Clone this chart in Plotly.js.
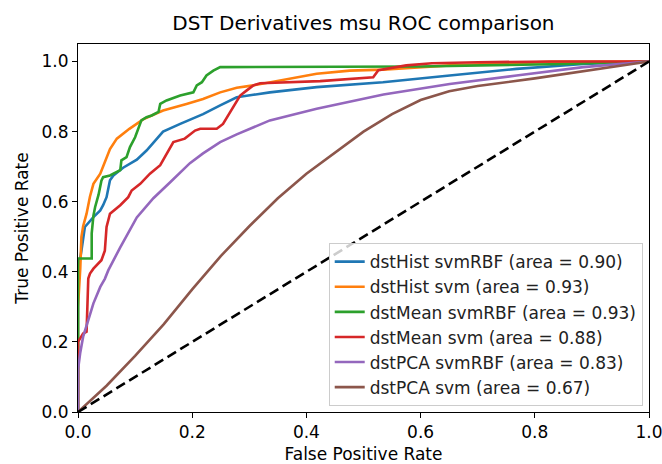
<!DOCTYPE html>
<html>
<head>
<meta charset="utf-8">
<script src="https://cdn.plot.ly/plotly-3.0.1.min.js"></script>
<style>html,body{margin:0;padding:0;background:#fff;}#chart{width:662px;height:464px;}</style>
</head>
<body>
<div id="chart"></div>
<script>
var labels = [
  "dstHist svmRBF (area = 0.90)",
  "dstHist svm (area = 0.93)",
  "dstMean svmRBF (area = 0.93)",
  "dstMean svm (area = 0.88)",
  "dstPCA svmRBF (area = 0.83)",
  "dstPCA svm (area = 0.67)"
];
var colors = ["#1f77b4", "#ff7f0e", "#2ca02c", "#d62728", "#9467bd", "#8c564b"];

var histRbfX = [0,0,0.006,0.009,0.012,0.027,0.039,0.044,0.05,0.056,0.062,0.079,0.103,0.12,0.149,0.179,0.219,0.249,0.278,0.307,0.336,0.418,0.534,0.651,0.768,0.885,1];
var histRbfY = [0,0.4,0.46,0.49,0.528,0.556,0.575,0.59,0.613,0.661,0.675,0.697,0.72,0.746,0.8,0.822,0.85,0.875,0.898,0.905,0.912,0.927,0.941,0.96,0.979,0.993,1];

var histSvmX = [0,0,0.004,0.006,0.009,0.015,0.021,0.027,0.039,0.044,0.05,0.056,0.068,0.09,0.114,0.149,0.19,0.219,0.249,0.278,0.307,0.418,0.476,0.534,0.651,0.768,0.826,1];
var histSvmY = [0,0.3,0.41,0.5,0.53,0.566,0.615,0.651,0.68,0.699,0.727,0.75,0.78,0.808,0.835,0.86,0.879,0.893,0.912,0.925,0.932,0.965,0.974,0.977,0.989,0.995,0.999,1];

var meanRbfX = [0,0,0,0.024,0.024,0.027,0.03,0.036,0.041,0.044,0.056,0.062,0.074,0.076,0.085,0.091,0.1,0.111,0.12,0.129,0.141,0.144,0.155,0.179,0.202,0.208,0.217,0.225,0.237,0.249,0.6,0.85,1];
var meanRbfY = [0,0.35,0.438,0.438,0.51,0.56,0.585,0.62,0.66,0.67,0.675,0.68,0.69,0.718,0.727,0.756,0.784,0.832,0.841,0.846,0.856,0.879,0.889,0.903,0.912,0.932,0.941,0.96,0.974,0.984,0.986,0.993,1];

var meanSvmX = [0,0,0.009,0.015,0.018,0.021,0.027,0.041,0.047,0.05,0.056,0.074,0.088,0.094,0.109,0.126,0.144,0.155,0.167,0.187,0.205,0.214,0.243,0.254,0.272,0.284,0.295,0.307,0.319,0.424,0.517,0.526,0.575,0.62,0.7,0.83,1];
var meanSvmY = [0,0.2,0.224,0.229,0.381,0.395,0.409,0.433,0.46,0.528,0.566,0.59,0.613,0.632,0.651,0.68,0.704,0.737,0.77,0.78,0.803,0.808,0.808,0.822,0.87,0.903,0.917,0.932,0.938,0.944,0.955,0.975,0.989,0.995,0.998,1,1];

var pcaRbfX = [0,0,0.004,0.009,0.018,0.027,0.039,0.047,0.053,0.074,0.103,0.132,0.161,0.196,0.219,0.249,0.278,0.307,0.336,0.383,0.418,0.535,0.651,0.768,0.885,1];
var pcaRbfY = [0,0.12,0.17,0.215,0.262,0.31,0.357,0.38,0.404,0.47,0.555,0.61,0.655,0.71,0.738,0.77,0.792,0.812,0.832,0.851,0.865,0.906,0.936,0.96,0.984,1];

var pcaSvmX = [0,0.05,0.1,0.15,0.2,0.25,0.3,0.35,0.4,0.45,0.5,0.55,0.6,0.65,0.7,0.8,0.9,1];
var pcaSvmY = [0,0.075,0.16,0.25,0.35,0.445,0.53,0.61,0.68,0.74,0.8,0.85,0.89,0.915,0.93,0.952,0.975,1];

var chanceX = [0, 1];
var chanceY = [0, 1];

var xs = [histRbfX, histSvmX, meanRbfX, meanSvmX, pcaRbfX, pcaSvmX];
var ys = [histRbfY, histSvmY, meanRbfY, meanSvmY, pcaRbfY, pcaSvmY];

var traces = [];
for (var i = 0; i < labels.length; i++) {
  traces.push({
    x: xs[i], y: ys[i], type: 'scatter', mode: 'lines', name: labels[i],
    line: {color: colors[i], width: 2.6}
  });
}
traces.push({x: chanceX, y: chanceY, type: 'scatter', mode: 'lines', showlegend: false,
  line: {color: '#000000', width: 2.6, dash: '10px,5px'}});

var fam = 'DejaVu Sans, sans-serif';
var layout = {
  width: 662, height: 464,
  margin: {l: 78, r: 13, t: 44, b: 52},
  paper_bgcolor: '#ffffff', plot_bgcolor: '#ffffff',
  font: {family: fam, size: 17, color: '#000000'},
  title: {text: 'DST Derivatives msu ROC comparison', font: {family: fam, size: 20, color: '#000'},
          x: 0.549, xanchor: 'center', y: 0.950, yanchor: 'middle', xref: 'container', yref: 'container'},
  xaxis: {range: [0, 1], tickvals: [0, 0.2, 0.4, 0.6, 0.8, 1.0], ticktext: ['0.0','0.2','0.4','0.6','0.8','1.0'],
          showgrid: false, zeroline: false, showline: true, mirror: true, linecolor: '#000', linewidth: 1,
          ticks: 'outside', ticklen: 5, tickcolor: '#000', tickfont: {size: 17}, ticklabeloverflow: 'allow',
          title: {text: 'False Positive Rate', font: {size: 17}, standoff: 6}},
  yaxis: {range: [0, 1.05], tickvals: [0, 0.2, 0.4, 0.6, 0.8, 1.0], ticktext: ['0.0','0.2','0.4','0.6','0.8','1.0'],
          showgrid: false, zeroline: false, showline: true, mirror: true, linecolor: '#000', linewidth: 1,
          ticks: 'outside', ticklen: 5, tickcolor: '#000', tickfont: {size: 17},
          title: {text: 'True Positive Rate', font: {size: 17}, standoff: 8}},
  legend: {x: 0.989, y: 0.016, xanchor: 'right', yanchor: 'bottom', bgcolor: 'rgba(255,255,255,0.8)',
           bordercolor: '#cccccc', borderwidth: 1, font: {size: 17, color: '#222'}},
  showlegend: true
};
Plotly.newPlot('chart', traces, layout, {displayModeBar: false, staticPlot: true});
</script>
</body>
</html>
